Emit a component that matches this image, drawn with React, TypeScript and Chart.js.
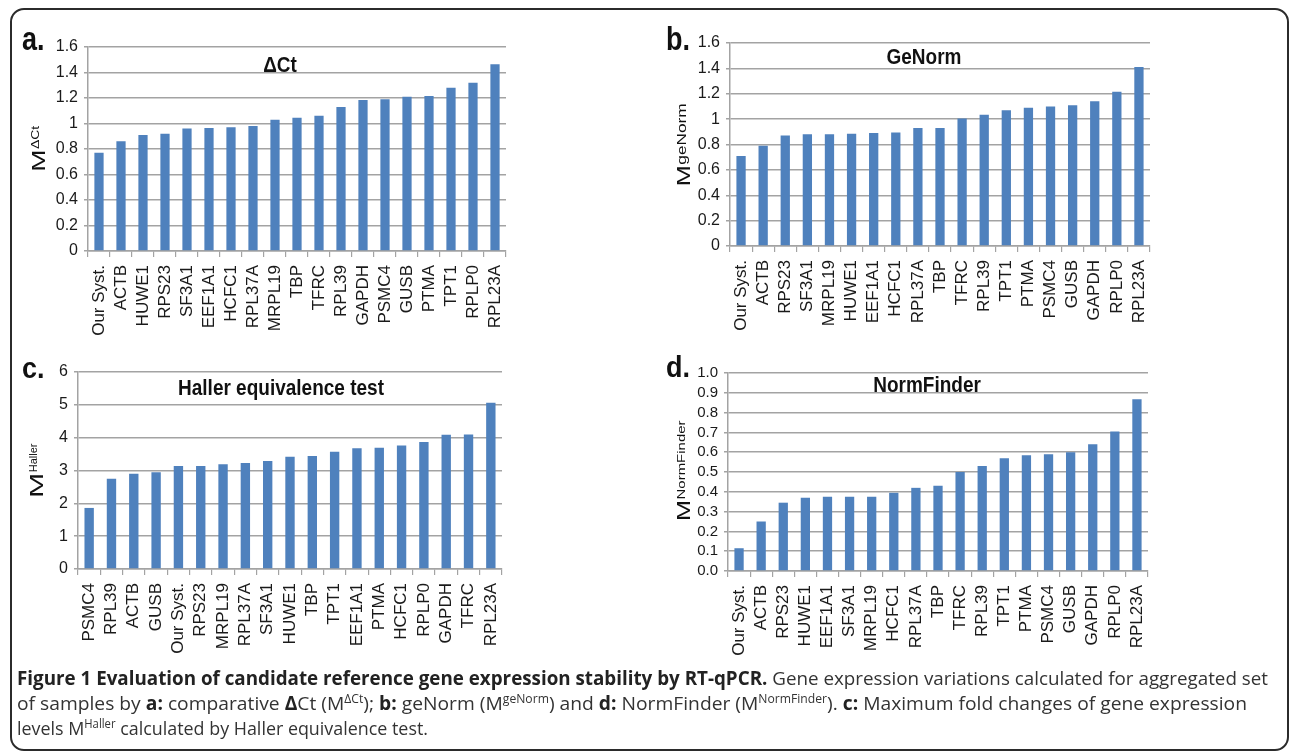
import React, { useEffect, useRef } from "react";
import { Chart, registerables } from "chart.js";

Chart.register(...registerables);

// ---------- DATA ----------
const catsA = ["Our Syst.", "ACTB", "HUWE1", "RPS23", "SF3A1", "EEF1A1", "HCFC1", "RPL37A", "MRPL19", "TBP", "TFRC", "RPL39", "GAPDH", "PSMC4", "GUSB", "PTMA", "TPT1", "RPLP0", "RPL23A"];
const valsA = [0.77, 0.86, 0.91, 0.92, 0.96, 0.965, 0.97, 0.98, 1.03, 1.045, 1.06, 1.13, 1.185, 1.19, 1.21, 1.215, 1.28, 1.32, 1.465];

const catsB = ["Our Syst.", "ACTB", "RPS23", "SF3A1", "MRPL19", "HUWE1", "EEF1A1", "HCFC1", "RPL37A", "TBP", "TFRC", "RPL39", "TPT1", "PTMA", "PSMC4", "GUSB", "GAPDH", "RPLP0", "RPL23A"];
const valsB = [0.71, 0.79, 0.87, 0.88, 0.88, 0.885, 0.89, 0.895, 0.93, 0.93, 1.005, 1.035, 1.07, 1.09, 1.1, 1.11, 1.14, 1.215, 1.41];

const catsC = ["PSMC4", "RPL39", "ACTB", "GUSB", "Our Syst.", "RPS23", "MRPL19", "RPL37A", "SF3A1", "HUWE1", "TBP", "TPT1", "EEF1A1", "PTMA", "HCFC1", "RPLP0", "GAPDH", "TFRC", "RPL23A"];
const valsC = [1.86, 2.75, 2.9, 2.95, 3.14, 3.14, 3.19, 3.23, 3.29, 3.42, 3.44, 3.57, 3.68, 3.69, 3.76, 3.87, 4.09, 4.1, 5.06];

const catsD = ["Our Syst.", "ACTB", "RPS23", "HUWE1", "EEF1A1", "SF3A1", "MRPL19", "HCFC1", "RPL37A", "TBP", "TFRC", "RPL39", "TPT1", "PTMA", "PSMC4", "GUSB", "GAPDH", "RPLP0", "RPL23A"];
const valsD = [0.115, 0.25, 0.345, 0.37, 0.375, 0.375, 0.375, 0.395, 0.42, 0.43, 0.5, 0.53, 0.57, 0.585, 0.59, 0.6, 0.64, 0.705, 0.868];

const yMaxes = [1.6, 1.6, 6, 1.0];
const ySteps = [0.2, 0.2, 1, 0.1];
const titles = ["\u0394Ct", "GeNorm", "Haller equivalence test", "NormFinder"];
const letters = ["a.", "b.", "c.", "d."];
const ySups = ["\u0394Ct", "geNorm", "Haller", "NormFinder"];

const FONT = '"Liberation Sans", Arial, sans-serif';
const BAR = "#4F81BD";
const GRID = "#a3a3a3";

// ---------- LAYOUT ----------
const panels = [
  {
    labels: catsA, values: valsA, yMax: yMaxes[0], yStep: ySteps[0],
    fmt: (v: number) => String(Math.round(v * 10) / 10),
    xFont: 17, yFont: 16, xPad: 8,
    box: { left: 12, top: 18, right: 530, bottom: 352 },
    plot: { left: 88, top: 47, right: 506, bottom: 251 },
    deco: {
      letter: letters[0], letterX: 22, letterY: 50, letterSize: 27, letterScaleY: 1.25,
      title: titles[0], titleX: 280, titleY: 72, titleSize: 19, titleScaleY: 1.15,
      sup: ySups[0], ytX: 45, ytY: 149, mSize: 19, mStretch: 1.4, supSize: 10, supStretch: 1.4,
    },
  },
  {
    labels: catsB, values: valsB, yMax: yMaxes[1], yStep: ySteps[1],
    fmt: (v: number) => String(Math.round(v * 10) / 10),
    xFont: 17, yFont: 16, xPad: 8,
    box: { left: 650, top: 18, right: 1175, bottom: 352 },
    plot: { left: 730, top: 43, right: 1150, bottom: 246 },
    deco: {
      letter: letters[1], letterX: 666, letterY: 50, letterSize: 27, letterScaleY: 1.25,
      title: titles[1], titleX: 924, titleY: 64, titleSize: 19, titleScaleY: 1.15,
      sup: ySups[1], ytX: 690, ytY: 145, mSize: 19, mStretch: 1.33, supSize: 13, supStretch: 1.33,
    },
  },
  {
    labels: catsC, values: valsC, yMax: yMaxes[2], yStep: ySteps[2],
    fmt: (v: number) => String(Math.round(v)),
    xFont: 17, yFont: 16, xPad: 8,
    box: { left: 12, top: 352, right: 530, bottom: 668 },
    plot: { left: 78, top: 372, right: 502, bottom: 569 },
    deco: {
      letter: letters[2], letterX: 22, letterY: 378, letterSize: 27, letterScaleY: 1.1,
      title: titles[2], titleX: 281, titleY: 395, titleSize: 19, titleScaleY: 1.2,
      sup: ySups[2], ytX: 43, ytY: 471, mSize: 19, mStretch: 1.6, supSize: 11, supStretch: 1.0,
    },
  },
  {
    labels: catsD, values: valsD, yMax: yMaxes[3], yStep: ySteps[3],
    fmt: (v: number) => v.toFixed(1),
    xFont: 17, yFont: 15, xPad: 8,
    box: { left: 650, top: 352, right: 1175, bottom: 668 },
    plot: { left: 728, top: 373, right: 1148, bottom: 571 },
    deco: {
      letter: letters[3], letterX: 666, letterY: 377, letterSize: 27, letterScaleY: 1.1,
      title: titles[3], titleX: 927, titleY: 392, titleSize: 19, titleScaleY: 1.15,
      sup: ySups[3], ytX: 690, ytY: 471, mSize: 19, mStretch: 1.33, supSize: 11.5, supStretch: 1.3,
    },
  },
];

const decoPlugin = {
  id: "deco",
  afterDraw(chart: any, _args: any, o: any) {
    const ctx = chart.ctx;
    const ox = o.ox, oy = o.oy;
    ctx.save();
    ctx.fillStyle = "#111";
    ctx.textBaseline = "alphabetic";

    // panel letter
    ctx.save();
    ctx.translate(o.letterX - ox, o.letterY - oy);
    ctx.scale(1, o.letterScaleY);
    ctx.font = `bold ${o.letterSize}px ${FONT}`;
    ctx.textAlign = "left";
    ctx.fillText(o.letter, 0, 0);
    ctx.restore();

    // chart title
    ctx.save();
    ctx.translate(o.titleX - ox, o.titleY - oy);
    ctx.scale(1, o.titleScaleY);
    ctx.font = `bold ${o.titleSize}px ${FONT}`;
    ctx.textAlign = "center";
    ctx.fillText(o.title, 0, 0);
    ctx.restore();

    // y axis title M^sup
    ctx.save();
    ctx.translate(o.ytX - ox, o.ytY - oy);
    ctx.rotate(-Math.PI / 2);
    ctx.textAlign = "left";
    ctx.font = `${o.mSize}px ${FONT}`;
    const mW = ctx.measureText("M").width * o.mStretch;
    ctx.font = `${o.supSize}px ${FONT}`;
    const sW = ctx.measureText(o.sup).width * o.supStretch;
    const start = -(mW + sW) / 2;
    ctx.save();
    ctx.translate(start, 0);
    ctx.scale(o.mStretch, 1);
    ctx.font = `${o.mSize}px ${FONT}`;
    ctx.fillText("M", 0, 0);
    ctx.restore();
    ctx.save();
    const raise = 0.716 * (o.mSize - o.supSize);
    ctx.translate(start + mW + 0.5, -raise);
    ctx.scale(o.supStretch, 1);
    ctx.font = `${o.supSize}px ${FONT}`;
    ctx.fillText(o.sup, 0, 0);
    ctx.restore();
    ctx.restore();

    ctx.restore();
  },
};

function BarPanel({ p }: { p: any }) {
  const ref = useRef<HTMLCanvasElement | null>(null);
  const w = p.box.right - p.box.left;
  const h = p.box.bottom - p.box.top;
  useEffect(() => {
    if (!ref.current) return;
    const chart = new Chart(ref.current, {
      type: "bar",
      data: {
        labels: p.labels,
        datasets: [
          {
            data: p.values,
            backgroundColor: BAR,
            borderWidth: 0,
            barPercentage: 0.42,
            categoryPercentage: 1,
          },
        ],
      },
      options: {
        animation: false,
        responsive: false,
        maintainAspectRatio: false,
        devicePixelRatio: 1,
        layout: {
          padding: {
            top: p.plot.top - p.box.top,
            right: p.box.right - p.plot.right,
            left: 0,
            bottom: 0,
          },
        },
        plugins: {
          legend: { display: false },
          tooltip: { enabled: false },
          title: { display: false },
          deco: { ...p.deco, ox: p.box.left, oy: p.box.top },
        } as any,
        scales: {
          x: {
            offset: true,
            grid: {
              offset: true,
              drawOnChartArea: false,
              drawTicks: true,
              tickLength: 6,
              color: GRID,
              lineWidth: 1.2,
            },
            border: { display: true, color: GRID, width: 1.5 },
            ticks: {
              autoSkip: false,
              maxRotation: 90,
              minRotation: 90,
              padding: p.xPad,
              color: "#1a1a1a",
              font: { family: FONT, size: p.xFont },
            },
            afterFit: (s: any) => {
              s.height = p.box.bottom - p.plot.bottom;
            },
          },
          y: {
            min: 0,
            max: p.yMax,
            grid: { color: GRID, lineWidth: 1.5, tickLength: 4, drawTicks: true },
            border: { display: true, color: GRID, width: 1.5 },
            ticks: {
              stepSize: p.yStep,
              autoSkip: false,
              padding: 6,
              color: "#1a1a1a",
              font: { family: FONT, size: p.yFont },
              callback: (v: any) => p.fmt(Number(v)),
            },
            afterFit: (s: any) => {
              s.width = p.plot.left - p.box.left;
            },
          },
        },
      } as any,
      plugins: [decoPlugin as any],
    });
    return () => chart.destroy();
  }, []);
  return (
    <canvas
      ref={ref}
      width={w}
      height={h}
      style={{ position: "absolute", left: p.box.left, top: p.box.top, width: w, height: h }}
    />
  );
}

function Caption() {
  const cf = '"Open Sans", "Noto Sans", sans-serif';
  const sup = { fontSize: 12 } as any;
  return (
    <svg
      width={1290}
      height={94}
      style={{ position: "absolute", left: 0, top: 660 }}
      fontFamily={cf}
      fontSize={19}
      fill="#333"
    >
      <text x={17} y={25} textLength={1251} lengthAdjust="spacingAndGlyphs">
        <tspan fontWeight={700} fill="#222">Figure 1 Evaluation of candidate reference gene expression stability by RT-qPCR.</tspan>
        <tspan> Gene expression variations calculated for aggregated set</tspan>
      </text>
      <text x={17} y={50} textLength={1230} lengthAdjust="spacingAndGlyphs">
        <tspan>of samples by </tspan>
        <tspan fontWeight={700} fill="#222">a:</tspan>
        <tspan> comparative </tspan>
        <tspan fontWeight={700} fill="#222">{"\u0394"}</tspan>
        <tspan>Ct (M</tspan>
        <tspan dy={-7} style={sup}>{"\u0394Ct"}</tspan>
        <tspan dy={7}>); </tspan>
        <tspan fontWeight={700} fill="#222">b:</tspan>
        <tspan> geNorm (M</tspan>
        <tspan dy={-7} style={sup}>geNorm</tspan>
        <tspan dy={7}>) and </tspan>
        <tspan fontWeight={700} fill="#222">d:</tspan>
        <tspan> NormFinder (M</tspan>
        <tspan dy={-7} style={sup}>NormFinder</tspan>
        <tspan dy={7}>). </tspan>
        <tspan fontWeight={700} fill="#222">c:</tspan>
        <tspan> Maximum fold changes of gene expression</tspan>
      </text>
      <text x={17} y={75} textLength={411} lengthAdjust="spacingAndGlyphs">
        <tspan>levels M</tspan>
        <tspan dy={-7} style={sup}>Haller</tspan>
        <tspan dy={7}> calculated by Haller equivalence test.</tspan>
      </text>
    </svg>
  );
}

export default function App() {
  useEffect(() => {
    document.body.style.margin = "0";
  }, []);
  return (
    <div
      style={{
        position: "fixed",
        left: 0,
        top: 0,
        width: 1290,
        height: 754,
        background: "#fff",
        overflow: "hidden",
      }}
    >
      <div
        style={{
          position: "absolute",
          left: 10,
          top: 8,
          width: 1279,
          height: 743,
          boxSizing: "border-box",
          border: "2px solid #2b2b2b",
          borderRadius: 14,
        }}
      />
      {panels.map((p, i) => (
        <BarPanel key={i} p={p} />
      ))}
      <Caption />
    </div>
  );
}
